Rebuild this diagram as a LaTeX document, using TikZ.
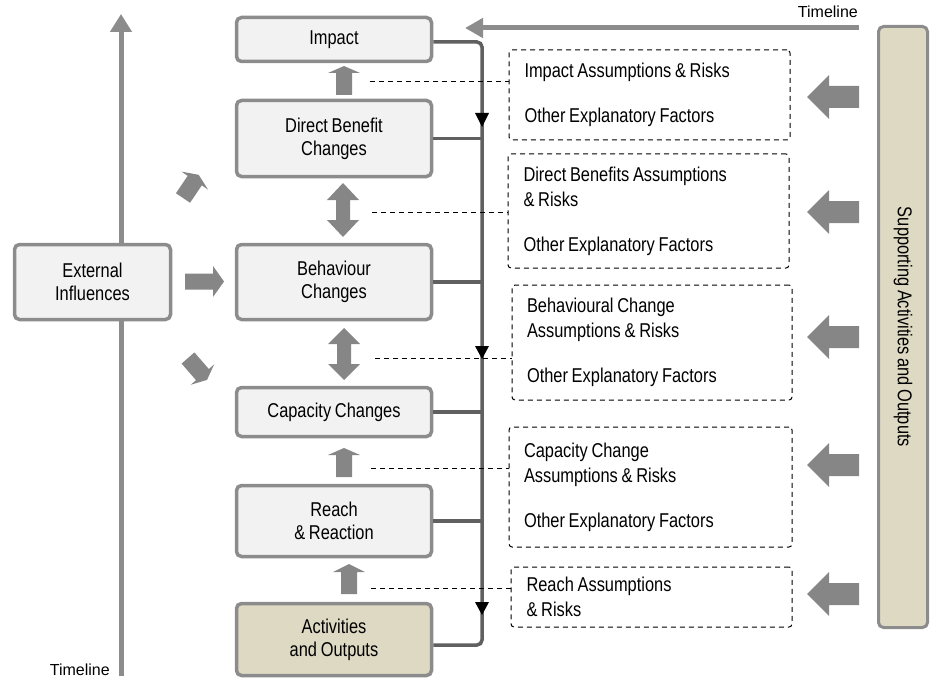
\documentclass[tikz,border=0pt]{standalone}
\usepackage{fontspec}
\setmainfont{Liberation Sans}
\newfontfamily\narrowfont{Liberation Sans}[FakeStretch=0.82, WordSpace=0.82]
\usetikzlibrary{arrows.meta}

\definecolor{boxline}{HTML}{8C8C8C}
\definecolor{boxfill}{HTML}{F2F2F2}
\definecolor{tanfill}{HTML}{DDD9C3}
\definecolor{blkgray}{HTML}{868686}
\definecolor{busgray}{HTML}{606060}

% block arrow: tail centre (x,y), angle, length, shaft width, head width, head length
\newcommand\BlkArrow[7]{%
  \fill[blkgray, shift={(#1,#2)}, rotate=#3]
    (0,{-#5/2}) -- ({#4-#7},{-#5/2}) -- ({#4-#7},{-#6/2}) -- (#4,0)
    -- ({#4-#7},{#6/2}) -- ({#4-#7},{#5/2}) -- (0,{#5/2}) -- cycle;}
% double block arrow: one tip at (x,y), angle, length, shaft width, head width, head length
\newcommand\BlkDArrow[7]{%
  \fill[blkgray, shift={(#1,#2)}, rotate=#3]
    (0,0) -- (#7,{#6/2}) -- (#7,{#5/2}) -- ({#4-#7},{#5/2}) -- ({#4-#7},{#6/2})
    -- (#4,0) -- ({#4-#7},{-#6/2}) -- ({#4-#7},{-#5/2}) -- (#7,{-#5/2})
    -- (#7,{-#6/2}) -- cycle;}

\tikzset{
  stage/.style={draw=boxline, line width=3.5pt, fill=boxfill, rounded corners=5pt,
    align=center, minimum width=195pt, inner sep=0pt,
    font=\narrowfont\fontsize{20}{23}\selectfont},
  assume/.style={draw=black, line width=1pt, dashed, dash pattern=on 5pt off 4pt,
    rounded corners=3pt, align=flush left, inner xsep=15pt, inner ysep=0pt,
    font=\narrowfont\fontsize{20}{25}\selectfont},
  bus/.style={draw=busgray, line width=3.5pt, rounded corners=5pt},
  dline/.style={draw=black, line width=1pt, dash pattern=on 5pt off 4pt},
  tline/.style={draw=boxline, line width=5pt},
  tlabel/.style={font=\fontsize{16}{19}\selectfont, inner sep=0pt}
}

\begin{document}
\begin{tikzpicture}[x=1pt, y=-1pt]
\useasboundingbox (0,0) rectangle (933,679);

% timelines
\coordinate (tlb) at (121,676);
\coordinate (tlt) at (121,14);
\draw[tline, -{Triangle[width=21pt,length=18pt]}] (tlb) -- (tlt);
\coordinate (ttr) at (859,28);
\coordinate (ttl) at (465,28);
\draw[tline, -{Triangle[width=19pt,length=18pt]}] (ttr) -- (ttl);
\node[tlabel, anchor=base east] (tlab1) at (110,675) {Timeline};
\node[tlabel, anchor=base east] (tlab2) at (858,18) {Timeline};

% results chain
\node[stage, minimum height=44pt] (impact) at (334,39.5) {Impact};
\node[stage, minimum height=76pt] (direct) at (334,138.5) {Direct Benefit\\Changes};
\node[stage, minimum height=75pt] (behav) at (334,282) {Behaviour\\Changes};
\node[stage, minimum height=49pt] (capac) at (334,412) {Capacity Changes};
\node[stage, minimum height=71pt] (reach) at (334,521) {Reach\\ \& Reaction};
\node[stage, minimum height=72pt, fill=tanfill] (activ) at (334,639.5) {Activities\\and Outputs};
\node[stage, minimum width=156pt, minimum height=75pt] (ext) at (92.5,282) {External\\Influences};

% supporting activities bar
\node[stage, fill=tanfill, line width=3pt, rotate=-90, minimum width=601pt,
      minimum height=49pt] (supp) at (903,327) {Supporting Activities and Outputs};

% feedback bus on the right of the chain
\coordinate (bt) at (482,42);
\coordinate (bb) at (482,645);
\draw[bus] (impact.east |- bt) -- (bt) -- (bb) -- (activ.east |- bb);
\draw[bus] (direct.east) -- (direct.east -| bt);
\draw[bus] (behav.east) -- (behav.east -| bt);
\draw[bus] (capac.east) -- (capac.east -| bt);
\draw[bus] (reach.east) -- (reach.east -| bt);
\fill[black] (475,113) -- (489,113) -- (482,127) -- cycle;
\fill[black] (475,346) -- (489,346) -- (482,359) -- cycle;
\fill[black] (475,602) -- (489,602) -- (482,615) -- cycle;

% assumptions and risks
\node[assume, minimum width=281pt, minimum height=90pt, text width=250pt] (ia) at (649.5,95)
  {Impact Assumptions \& Risks\\[20pt]Other Explanatory Factors};
\node[assume, minimum width=281pt, minimum height=114pt, text width=250pt] (da) at (648.5,211)
  {Direct Benefits Assumptions\\\& Risks\\[20pt]Other Explanatory Factors};
\node[assume, minimum width=280pt, minimum height=115pt, text width=250pt] (ba) at (652,342.5)
  {Behavioural Change\\Assumptions \& Risks\\[20pt]Other Explanatory Factors};
\node[assume, minimum width=283pt, minimum height=120pt, text width=253pt] (ca) at (650.5,487)
  {Capacity Change\\Assumptions \& Risks\\[20pt]Other Explanatory Factors};
\node[assume, minimum width=281pt, minimum height=60pt, text width=250pt] (ra) at (651.5,597)
  {Reach Assumptions\\\& Risks};

% dashed links from the chain to the assumption boxes
\coordinate (d1) at (370,82);
\coordinate (d2) at (372,212);
\coordinate (d3) at (375,358);
\coordinate (d4) at (371,468);
\coordinate (d5) at (371,588);
\draw[dline] (d1) -- (d1 -| ia.west);
\draw[dline] (d2) -- (d2 -| da.west);
\draw[dline] (d3) -- (d3 -| ba.west);
\draw[dline] (d4) -- (d4 -| ca.west);
\draw[dline] (d5) -- (d5 -| ra.west);

% block arrows between stages
\BlkArrow{344}{95}{90}{29}{16}{32}{7}
\BlkArrow{344}{477}{90}{29}{16}{32}{7}
\BlkArrow{349}{594}{90}{30}{16}{32}{8}
\BlkDArrow{343}{237}{90}{54}{14}{32}{17}
\BlkDArrow{344}{380}{90}{52}{14}{32}{16}

% external influences
\BlkArrow{185}{281.5}{0}{39}{16}{31}{11}
\BlkArrow{183}{198}{56}{28}{17}{32}{7}
\BlkArrow{188}{358}{-49}{29}{17}{31}{7}

% supporting activities feed into assumptions
\BlkArrow{859}{97}{180}{52}{22}{44}{22}
\BlkArrow{859}{212}{180}{52}{22}{44}{22}
\BlkArrow{859}{337}{180}{52}{22}{44}{22}
\BlkArrow{859}{465}{180}{52}{22}{44}{22}
\BlkArrow{859}{594}{180}{52}{22}{44}{22}
\end{tikzpicture}
\end{document}
